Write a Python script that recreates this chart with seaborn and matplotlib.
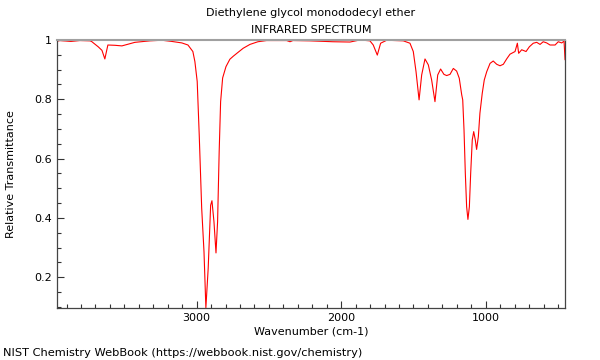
import matplotlib
matplotlib.use("Agg")
import matplotlib.pyplot as plt
import pandas as pd
import seaborn as sns
from matplotlib.ticker import MultipleLocator, FormatStrFormatter

# spectrum (wavenumber in cm-1, relative transmittance)
wavenumber = [3966, 3946, 3870, 3808, 3738, 3727, 3681, 3655, 3635, 3614,
              3565, 3517, 3427, 3323, 3240, 3171, 3102, 3060, 3026, 3012,
              2996, 2982, 2965, 2949, 2936, 2920, 2903, 2894, 2880, 2866,
              2855, 2844, 2834, 2820, 2797, 2770, 2747, 2714, 2678, 2631,
              2576, 2516, 2377, 2354, 2334, 2216, 2057, 1939, 1870, 1801,
              1778, 1750, 1727, 1685, 1570, 1524, 1501, 1482, 1461, 1443,
              1420, 1397, 1374, 1351, 1332, 1312, 1289, 1270, 1247, 1224,
              1201, 1183, 1166, 1159, 1150, 1141, 1132, 1123, 1113, 1104,
              1093, 1083, 1072, 1063, 1051, 1040, 1024, 1010, 993, 970,
              948, 924, 901, 878, 855, 832, 797, 781, 772, 751,
              721, 698, 671, 647, 624, 602, 578, 555, 520, 498,
              474, 458, 451]
transmittance = [0.996, 0.998, 0.995, 0.998, 0.997, 0.995, 0.977, 0.965, 0.936, 0.983,
                 0.982, 0.980, 0.992, 0.997, 0.999, 0.995, 0.990, 0.983, 0.961, 0.927,
                 0.860, 0.680, 0.433, 0.286, 0.097, 0.230, 0.443, 0.458, 0.387, 0.282,
                 0.387, 0.623, 0.792, 0.872, 0.910, 0.935, 0.945, 0.958, 0.972, 0.985,
                 0.994, 0.998, 0.998, 0.994, 0.998, 0.997, 0.994, 0.993, 1.000, 0.997,
                 0.983, 0.949, 0.989, 0.999, 0.997, 0.989, 0.961, 0.893, 0.798, 0.882,
                 0.936, 0.916, 0.865, 0.792, 0.882, 0.902, 0.884, 0.880, 0.884, 0.904,
                 0.895, 0.871, 0.815, 0.798, 0.696, 0.550, 0.438, 0.395, 0.438, 0.550,
                 0.663, 0.691, 0.663, 0.631, 0.674, 0.753, 0.820, 0.865, 0.893, 0.921,
                 0.929, 0.918, 0.913, 0.918, 0.936, 0.952, 0.961, 0.989, 0.955, 0.967,
                 0.961, 0.977, 0.989, 0.992, 0.985, 0.994, 0.990, 0.983, 0.983, 0.994,
                 0.990, 0.996, 0.933]

df = pd.DataFrame({"wavenumber": wavenumber, "transmittance": transmittance})

sns.set_style("ticks")
plt.rcParams["font.family"] = ["DejaVu Sans"]
plt.rcParams["text.color"] = "black"
plt.rcParams["axes.labelcolor"] = "black"

fig = plt.figure(figsize=(6, 3.6), dpi=100)
ax = fig.add_axes([0.095, 0.145, 0.847, 0.744])

sns.lineplot(data=df, x="wavenumber", y="transmittance", sort=False,
             estimator=None, color="#ff0000", linewidth=0.8, ax=ax)

ax.set_xlim(3966, 450)
ax.set_ylim(min(transmittance), 1.0)

ax.xaxis.set_major_locator(MultipleLocator(1000))
ax.xaxis.set_minor_locator(MultipleLocator(100))
ax.yaxis.set_major_locator(MultipleLocator(0.2))
ax.yaxis.set_minor_locator(MultipleLocator(0.05))
ax.yaxis.set_major_formatter(FormatStrFormatter("%g"))
ax.xaxis.set_major_formatter(FormatStrFormatter("%d"))

ax.tick_params(which="both", direction="in", colors="#333333", labelcolor="black",
               labelsize=8, top=False, right=False)
ax.tick_params(which="major", length=5, width=0.8)
ax.tick_params(which="minor", length=3, width=0.8)

for side in ["left", "bottom", "right"]:
    ax.spines[side].set_color("#444444")
    ax.spines[side].set_linewidth(0.9)
ax.spines["top"].set_color("#a0a0a0")
ax.spines["top"].set_linewidth(1.5)

ax.set_xlabel("Wavenumber (cm-1)", fontsize=8, labelpad=3)
ax.set_ylabel("Relative Transmittance", fontsize=8, labelpad=13)

fig.text(0.518, 0.963, "Diethylene glycol monododecyl ether", ha="center", va="center", fontsize=8)
fig.text(0.518, 0.916, "INFRARED SPECTRUM", ha="center", va="center", fontsize=8)
fig.text(0.005, 0.019, "NIST Chemistry WebBook (https://webbook.nist.gov/chemistry)",
         ha="left", va="center", fontsize=8.2)

fig.savefig("out.png", dpi=100)
